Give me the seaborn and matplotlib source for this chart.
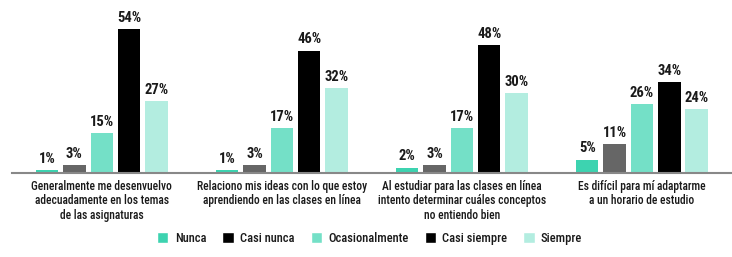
import matplotlib
matplotlib.use('Agg')

import matplotlib.pyplot as plt
import pandas as pd
import seaborn as sns
from matplotlib.patches import Patch
from matplotlib import font_manager as fm

# survey results, percent of answers per statement
categories = [
    'Generalmente me desenvuelvo\nadecuadamente en los temas\nde las asignaturas',
    'Relaciono mis ideas con lo que estoy\naprendiendo en las clases en línea',
    'Al estudiar para las clases en línea\nintento determinar cuáles conceptos\nno entiendo bien',
    'Es difícil para mí adaptarme\na un horario de estudio',
]
levels = ['Nunca', 'Casi nunca', 'Ocasionalmente', 'Casi siempre', 'Siempre']
nunca = [1, 1, 2, 5]
casi_nunca = [3, 3, 3, 11]
ocasionalmente = [15, 17, 17, 26]
casi_siempre = [54, 46, 48, 34]
siempre = [27, 32, 30, 24]

bar_colors = ['#3dd3b0', '#666666', '#74e0c7', '#000000', '#b3ede0']
legend_colors = ['#3dd3b0', '#000000', '#74e0c7', '#000000', '#b3ede0']

rows = []
for lvl, vals in zip(levels, [nunca, casi_nunca, ocasionalmente, casi_siempre, siempre]):
    for cat, v in zip(categories, vals):
        rows.append({'cat': cat, 'nivel': lvl, 'pct': v})
df = pd.DataFrame(rows)

# pick a condensed family that also ships a heavier face
candidates = ['Roboto Condensed', 'Archivo Narrow', 'Asap Condensed', 'Open Sans Condensed',
              'Encode Sans Condensed', 'Barlow Semi Condensed', 'Fira Sans Condensed']
have_bold = {f.name for f in fm.fontManager.ttflist
             if (f.weight if isinstance(f.weight, int) else 400) >= 500 or f.weight in ('bold', 'semibold', 'demibold', 'medium')}
chosen = next((c for c in candidates if c in have_bold), 'Liberation Sans')

sns.set_style('white')
plt.rcParams['font.family'] = [chosen, 'DejaVu Sans']
plt.rcParams['text.color'] = '#1a1a1a'

fig = plt.figure(figsize=(7.32, 2.57), dpi=100)
ax = fig.add_axes([0.016, 0.327, 0.984, 0.673])
sns.barplot(data=df, x='cat', y='pct', hue='nivel', hue_order=levels,
            palette=bar_colors, saturation=1, width=0.76, gap=0.18, ax=ax,
            legend=False, linewidth=0)

for cont in ax.containers:
    ax.bar_label(cont, fmt='%d%%', padding=3, fontsize=10.5, fontweight='semibold')

ax.set_ylim(0, 65)
ax.set_xlim(-0.5, 3.5)
ax.set_xlabel('')
ax.set_ylabel('')
ax.set_yticks([])
ax.tick_params(axis='x', length=0, pad=5, labelsize=8.3, labelcolor='#1a1a1a')
for lab in ax.get_xticklabels():
    lab.set_fontweight('medium')
    lab.set_linespacing(1.15)
sns.despine(ax=ax, left=True)
ax.spines['bottom'].set_color('#888888')
ax.spines['bottom'].set_linewidth(1.5)

handles = [Patch(facecolor=c, label=l) for c, l in zip(legend_colors, levels)]
fig.legend(handles=handles, loc='center', bbox_to_anchor=(0.505, 0.073), ncol=5,
           frameon=False, handlelength=0.9, handleheight=0.9,
           handletextpad=0.5, columnspacing=1.3,
           prop={'weight': 'medium', 'size': 9})

fig.savefig('out.png', dpi=100)
